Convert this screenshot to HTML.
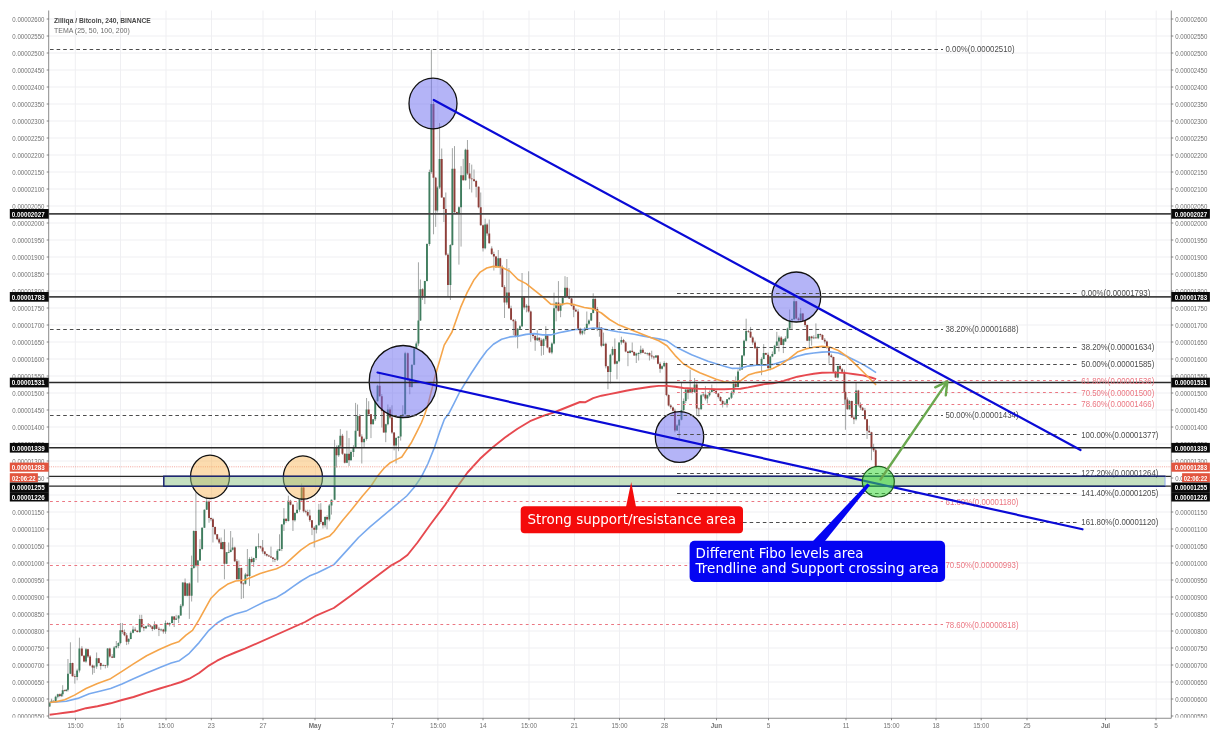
<!DOCTYPE html>
<html lang="en"><head><meta charset="utf-8"><title>Zilliqa / Bitcoin, 240, BINANCE</title>
<style>html,body{margin:0;padding:0;background:#fff}body{width:1220px;height:740px;overflow:hidden}</style>
</head><body>
<svg width="1220" height="740" viewBox="0 0 1220 740" style="display:block">
<rect width="1220" height="740" fill="#fff"/>
<path d="M75.3 10.5V718.25M120.5 10.5V718.25M166.0 10.5V718.25M211.5 10.5V718.25M263.0 10.5V718.25M315.5 10.5V718.25M392.5 10.5V718.25M437.8 10.5V718.25M483.2 10.5V718.25M529.0 10.5V718.25M574.5 10.5V718.25M619.5 10.5V718.25M664.5 10.5V718.25M716.7 10.5V718.25M768.5 10.5V718.25M846.5 10.5V718.25M891.5 10.5V718.25M936.2 10.5V718.25M981.2 10.5V718.25M1027.2 10.5V718.25M1105.5 10.5V718.25M1156.2 10.5V718.25M48.7 699.0H1171.3M48.7 682.0H1171.3M48.7 665.0H1171.3M48.7 648.0H1171.3M48.7 631.0H1171.3M48.7 614.0H1171.3M48.7 597.0H1171.3M48.7 580.0H1171.3M48.7 563.0H1171.3M48.7 546.0H1171.3M48.7 529.0H1171.3M48.7 512.0H1171.3M48.7 495.0H1171.3M48.7 478.0H1171.3M48.7 461.0H1171.3M48.7 444.0H1171.3M48.7 427.0H1171.3M48.7 410.0H1171.3M48.7 393.0H1171.3M48.7 376.0H1171.3M48.7 359.0H1171.3M48.7 342.0H1171.3M48.7 325.0H1171.3M48.7 308.0H1171.3M48.7 291.0H1171.3M48.7 274.0H1171.3M48.7 257.0H1171.3M48.7 240.0H1171.3M48.7 223.0H1171.3M48.7 206.0H1171.3M48.7 189.0H1171.3M48.7 172.0H1171.3M48.7 155.0H1171.3M48.7 138.0H1171.3M48.7 121.0H1171.3M48.7 104.0H1171.3M48.7 87.0H1171.3M48.7 70.0H1171.3M48.7 53.0H1171.3M48.7 36.0H1171.3M48.7 19.0H1171.3" stroke="#efeff2" stroke-width="1" fill="none"/>
<path d="M49.59 702.2V706.9M51.56 698.7V703.0M53.52 700.5V702.0M55.66 695.7V702.8M57.79 693.7V698.3M59.75 693.5V697.2M61.39 693.1V697.1M62.70 685.2V696.7M64.67 689.6V691.5M66.31 688.9V691.6M67.95 659.0V691.5M70.41 642.3V674.1M72.54 662.7V676.5M74.84 673.8V683.6M77.13 668.7V680.3M79.43 637.7V672.5M81.89 646.2V656.3M84.02 655.0V662.2M85.98 648.0V662.8M87.95 648.7V658.0M90.08 655.0V666.3M92.54 664.6V674.6M94.18 665.1V673.0M96.64 652.5V668.8M98.77 657.9V663.4M100.74 662.6V669.7M103.20 664.4V666.3M105.33 664.9V668.4M107.62 648.0V667.7M109.75 647.7V657.6M112.21 654.1V658.1M114.18 646.1V658.0M116.31 641.0V648.5M118.44 642.3V648.2M120.41 623.0V644.3M122.38 623.0V633.8M124.51 629.5V636.2M126.64 633.1V645.1M128.61 638.2V644.3M130.74 631.2V639.3M133.03 626.2V633.4M135.16 627.3V631.3M137.30 630.1V632.5M139.75 614.8V632.9M141.72 614.8V628.2M143.85 625.4V631.1M145.98 625.8V628.8M148.28 623.0V627.0M150.41 625.1V627.5M152.38 626.2V631.1M154.51 621.3V630.0M156.48 624.3V629.1M158.93 626.9V636.1M161.07 628.5V631.4M163.36 628.8V633.6M165.49 620.5V633.8M167.62 622.2V624.9M169.59 622.5V626.4M172.05 615.9V623.5M174.18 616.0V627.0M176.15 614.8V620.0M178.61 615.3V623.0M180.74 604.0V615.9M182.79 582.3V607.3M185.08 578.5V596.1M187.21 583.1V596.3M189.34 582.4V618.9M191.64 555.6V601.5M193.77 530.4V568.8M195.90 492.5V567.4M197.87 559.9V582.6M200.00 539.2V560.9M202.13 527.3V550.1M204.43 509.4V528.0M206.72 496.6V510.0M209.02 500.4V522.8M210.98 517.5V521.2M212.95 517.8V542.5M215.08 526.5V535.2M217.21 534.0V540.3M219.18 537.7V544.0M221.15 537.5V549.4M222.79 541.8V549.7M224.43 529.3V579.3M226.56 552.0V564.1M228.69 542.5V553.2M230.66 531.0V552.3M232.62 537.5V550.5M234.75 546.6V562.1M236.89 559.1V579.7M238.85 560.5V579.6M241.31 567.5V599.0M243.44 582.5V598.2M245.41 572.9V584.5M247.38 549.0V577.2M249.51 557.3V585.9M251.64 556.7V563.3M253.61 557.7V567.0M256.07 546.3V560.1M258.52 533.4V548.5M260.49 545.8V548.7M262.62 540.0V553.7M264.75 551.2V555.6M266.72 553.6V556.5M268.85 554.7V556.7M270.98 546.6V557.8M272.95 557.0V562.1M274.92 557.8V562.1M277.38 549.2V561.0M279.51 534.3V551.0M281.80 524.0V551.1M283.93 508.0V531.0M286.07 518.4V522.8M288.36 495.7V521.5M290.49 499.8V505.3M292.95 504.0V531.0M294.92 512.2V521.6M297.05 502.3V513.8M299.51 499.2V511.8M301.64 483.4V501.7M303.61 487.1V512.6M305.74 509.7V513.3M307.70 509.7V516.6M309.84 509.7V522.0M311.97 520.0V535.1M314.26 526.2V547.4M316.39 524.7V533.4M318.85 503.9V525.6M320.82 503.1V524.1M322.95 521.5V528.5M325.08 516.3V527.4M327.05 515.3V529.3M329.34 504.0V521.3M331.48 499.5V514.6M334.59 439.8V500.1M336.56 445.4V467.6M338.69 445.1V456.9M340.33 429.1V447.2M342.46 433.9V454.9M344.75 453.3V463.5M346.89 430.7V463.2M349.02 438.1V466.0M350.98 450.4V460.6M353.44 445.2V457.0M355.57 402.9V447.5M357.54 404.5V431.1M359.67 414.2V436.9M361.80 434.3V463.5M364.10 437.8V447.1M366.56 398.0V440.6M368.69 401.2V414.8M370.98 414.0V438.1M373.11 418.9V424.5M375.25 399.8V421.0M377.54 384.8V401.5M379.67 373.4V396.6M381.80 394.0V427.5M383.77 410.2V432.7M385.74 423.7V442.2M387.87 404.5V425.4M390.00 407.3V419.2M391.97 405.3V433.8M394.10 432.1V450.4M396.07 437.2V463.5M398.52 436.1V451.2M400.66 415.2V440.6M402.79 405.3V418.4M405.16 351.8V415.9M407.79 352.4V380.9M409.75 378.2V394.3M411.89 364.5V387.8M414.18 346.9V365.2M416.31 341.5V348.7M418.44 262.3V345.8M420.41 279.5V320.9M422.54 288.2V299.9M424.84 280.8V304.1M426.97 243.3V281.5M429.43 169.6V245.8M431.39 49.5V173.6M433.52 101.6V234.3M435.66 176.9V226.9M437.30 186.2V212.5M439.59 123.0V189.0M441.72 148.5V197.7M443.85 197.1V222.0M445.82 192.5V255.8M447.95 253.3V296.7M450.41 244.2V300.0M452.38 148.2V245.5M454.51 146.1V214.0M456.80 211.8V213.6M458.93 206.2V264.6M461.07 166.2V246.6M463.20 158.9V180.5M465.49 148.7V180.5M467.46 140.0V174.9M469.59 163.0V189.2M471.72 164.6V192.5M474.02 169.5V181.9M476.15 179.9V197.4M478.61 186.4V208.3M480.74 192.5V225.7M483.03 224.6V251.5M485.16 218.7V249.3M487.13 223.2V235.7M489.26 219.5V243.6M491.72 246.3V255.0M493.85 251.7V270.5M495.98 255.9V267.9M498.28 250.0V267.5M500.25 257.8V274.6M502.38 265.4V287.4M504.51 285.2V318.0M506.80 259.0V304.7M508.93 268.0V309.0M511.07 305.7V320.3M513.36 319.3V335.2M515.49 319.4V337.3M517.62 328.1V348.4M519.92 325.1V329.8M522.05 273.0V327.0M524.18 296.2V309.6M526.48 304.2V312.3M528.61 271.3V312.6M530.74 310.6V341.8M533.03 333.3V338.5M535.16 335.2V350.8M537.30 330.3V341.0M539.26 337.1V342.0M541.39 338.3V355.7M543.52 338.4V354.9M545.82 326.2V340.9M547.46 334.6V348.4M549.59 347.0V353.2M551.89 342.3V354.2M554.02 292.6V344.4M556.15 301.8V321.3M558.44 281.1V311.6M560.57 303.4V317.2M562.70 296.3V305.9M565.00 276.2V297.9M567.13 277.0V297.0M569.26 288.5V298.9M571.56 297.8V306.4M573.69 305.2V317.2M575.82 308.3V311.8M578.11 309.2V329.5M580.25 327.7V335.2M582.38 330.1V335.2M584.67 327.1V334.4M586.80 311.5V329.0M588.93 319.3V325.3M591.23 312.8V321.1M593.20 293.3V313.4M595.16 296.7V309.7M597.30 306.9V331.1M599.43 322.0V336.7M601.39 327.0V347.2M603.52 332.6V346.1M605.82 342.6V368.4M607.95 365.9V389.2M610.41 353.7V383.4M612.54 346.6V355.6M614.84 338.4V364.6M616.97 360.5V379.3M619.10 342.2V362.3M621.39 336.7V344.6M623.52 338.9V343.2M625.66 341.3V352.3M627.95 350.8V366.2M630.08 350.2V353.4M632.21 342.5V352.8M634.18 351.5V355.9M636.31 352.7V363.0M638.61 352.3V360.5M640.74 345.7V354.4M642.87 348.1V353.2M645.16 352.1V354.1M647.30 352.5V355.4M649.43 352.3V360.5M651.72 350.7V358.7M653.85 355.8V359.4M655.98 355.1V357.9M657.95 355.0V364.4M660.08 361.8V372.8M662.05 365.3V369.6M664.18 361.3V367.2M666.48 362.5V396.2M668.61 394.3V406.4M670.74 404.2V408.9M672.95 406.6V411.6M674.92 408.7V432.3M677.05 424.1V430.8M679.18 418.8V438.7M681.48 382.1V420.4M683.61 398.5V411.4M685.74 389.2V403.1M688.03 389.0V399.3M690.16 369.8V393.1M692.30 388.3V393.6M694.59 378.0V393.0M696.72 382.5V415.7M698.85 407.6V416.6M701.15 394.2V409.6M703.28 393.0V396.7M705.41 386.2V400.4M707.38 394.7V403.4M709.51 390.5V396.6M711.80 384.6V392.7M713.93 388.8V391.5M716.07 390.0V394.2M718.36 392.9V398.5M720.49 396.3V401.8M722.62 399.8V407.5M724.92 401.3V404.9M727.05 399.0V407.5M729.18 397.4V400.2M731.48 390.8V399.0M733.61 381.6V394.7M735.74 376.4V387.7M738.03 369.3V387.4M739.92 363.8V370.7M742.05 355.0V370.0M744.02 339.7V356.5M746.15 318.7V341.5M748.44 329.6V332.8M750.57 326.9V337.9M752.70 336.3V344.8M755.00 340.7V348.7M757.13 346.2V364.9M759.26 364.0V366.0M761.56 357.3V375.2M763.69 344.1V359.2M765.82 352.6V355.1M768.11 352.5V369.2M770.25 355.9V370.3M772.38 351.5V357.2M774.67 344.8V354.5M776.80 331.8V346.7M778.93 335.6V351.5M781.23 336.1V345.2M783.36 338.7V353.1M785.41 336.3V341.8M787.54 327.6V338.9M789.67 309.5V329.8M791.97 318.4V329.2M794.10 296.4V319.7M796.23 300.9V319.3M798.52 317.3V320.5M800.66 307.9V321.8M802.79 312.9V322.0M805.08 319.3V327.0M807.21 324.5V341.1M809.34 336.0V347.2M811.64 335.8V345.6M813.77 335.3V339.2M815.90 323.4V338.5M818.20 333.7V339.2M820.33 333.5V336.7M822.46 334.3V340.1M824.75 338.0V343.6M826.89 340.6V348.7M829.02 346.9V363.6M831.31 353.7V357.9M833.44 356.7V373.0M835.57 370.9V377.9M837.87 365.7V378.3M840.00 364.0V370.5M842.13 367.8V372.3M844.43 369.6V404.6M845.41 391.5V429.8M847.38 397.4V409.8M849.51 400.0V409.7M851.80 400.6V417.9M853.93 415.4V424.1M856.07 382.3V420.5M858.36 389.8V406.4M860.49 402.4V409.8M862.62 406.9V410.9M864.92 407.9V419.5M867.05 418.9V438.9M869.18 425.7V433.0M871.48 431.8V460.2M873.61 443.8V451.9M875.74 448.6V467.3" stroke="#7d817f" stroke-width="0.7" fill="none"/>
<path d="M48.64 702.5h1.9V706.6h-1.9zM50.61 700.8h1.9V702.5h-1.9zM54.71 696.7h1.9V701.3h-1.9zM56.84 694.3h1.9V696.7h-1.9zM60.44 694.3h1.9V695.9h-1.9zM61.75 690.2h1.9V694.3h-1.9zM65.36 689.8h1.9V691.0h-1.9zM67.00 673.8h1.9V689.8h-1.9zM69.46 663.1h1.9V673.8h-1.9zM76.18 670.5h1.9V677.0h-1.9zM78.48 648.4h1.9V670.5h-1.9zM85.03 649.2h1.9V661.5h-1.9zM93.23 666.4h1.9V667.5h-1.9zM95.69 658.2h1.9V666.4h-1.9zM102.25 665.2h1.9V666.0h-1.9zM106.67 648.4h1.9V665.6h-1.9zM113.23 647.5h1.9V657.7h-1.9zM115.36 645.9h1.9V647.5h-1.9zM117.49 643.0h1.9V645.9h-1.9zM119.46 630.3h1.9V643.0h-1.9zM127.66 639.0h1.9V641.8h-1.9zM129.79 632.8h1.9V639.0h-1.9zM132.08 629.5h1.9V632.8h-1.9zM138.80 618.9h1.9V632.0h-1.9zM145.03 626.2h1.9V628.2h-1.9zM147.33 625.4h1.9V626.2h-1.9zM153.56 624.6h1.9V628.9h-1.9zM160.12 629.5h1.9V630.3h-1.9zM164.54 623.0h1.9V631.5h-1.9zM168.64 623.0h1.9V624.6h-1.9zM171.10 616.4h1.9V623.0h-1.9zM175.20 618.4h1.9V619.7h-1.9zM177.66 615.6h1.9V618.4h-1.9zM179.79 605.7h1.9V615.6h-1.9zM181.84 582.6h1.9V605.7h-1.9zM186.26 583.4h1.9V595.7h-1.9zM190.69 567.9h1.9V595.7h-1.9zM192.82 531.0h1.9V567.9h-1.9zM196.92 560.5h1.9V565.4h-1.9zM199.05 549.0h1.9V560.5h-1.9zM201.18 527.7h1.9V549.0h-1.9zM203.48 509.7h1.9V527.7h-1.9zM205.77 501.5h1.9V509.7h-1.9zM221.84 542.1h1.9V549.0h-1.9zM225.61 552.3h1.9V563.8h-1.9zM227.74 552.0h1.9V552.8h-1.9zM229.71 549.8h1.9V552.0h-1.9zM231.67 547.4h1.9V549.8h-1.9zM237.90 567.9h1.9V579.3h-1.9zM244.46 574.4h1.9V583.8h-1.9zM248.56 558.9h1.9V576.1h-1.9zM252.66 558.0h1.9V562.1h-1.9zM255.12 546.6h1.9V558.0h-1.9zM257.57 546.2h1.9V547.0h-1.9zM276.43 550.7h1.9V559.7h-1.9zM278.56 549.0h1.9V550.7h-1.9zM280.85 524.4h1.9V549.0h-1.9zM282.98 518.7h1.9V524.4h-1.9zM287.41 500.7h1.9V521.1h-1.9zM293.97 513.0h1.9V520.3h-1.9zM296.10 509.7h1.9V513.0h-1.9zM298.56 499.8h1.9V509.7h-1.9zM300.69 487.5h1.9V499.8h-1.9zM315.44 525.2h1.9V529.7h-1.9zM317.90 509.7h1.9V525.2h-1.9zM324.13 517.0h1.9V525.2h-1.9zM328.39 505.6h1.9V519.5h-1.9zM330.53 499.8h1.9V505.6h-1.9zM333.64 447.1h1.9V499.8h-1.9zM337.74 445.5h1.9V455.3h-1.9zM339.38 435.7h1.9V445.5h-1.9zM345.94 453.7h1.9V462.7h-1.9zM350.03 452.0h1.9V460.2h-1.9zM352.49 447.1h1.9V452.0h-1.9zM354.62 430.7h1.9V447.1h-1.9zM356.59 416.0h1.9V430.7h-1.9zM363.15 438.9h1.9V442.2h-1.9zM365.61 409.4h1.9V438.9h-1.9zM372.16 419.3h1.9V424.2h-1.9zM374.30 401.2h1.9V419.3h-1.9zM376.59 385.7h1.9V401.2h-1.9zM384.79 424.2h1.9V432.4h-1.9zM386.92 409.4h1.9V424.2h-1.9zM395.12 438.1h1.9V445.5h-1.9zM397.57 436.5h1.9V438.1h-1.9zM399.71 416.0h1.9V436.5h-1.9zM401.84 414.3h1.9V416.0h-1.9zM404.21 353.3h1.9V414.3h-1.9zM410.94 364.8h1.9V386.9h-1.9zM413.23 348.4h1.9V364.8h-1.9zM415.36 343.4h1.9V348.4h-1.9zM417.49 320.5h1.9V343.4h-1.9zM419.46 289.3h1.9V320.5h-1.9zM423.89 281.1h1.9V297.5h-1.9zM426.02 243.9h1.9V281.1h-1.9zM428.48 172.0h1.9V244.1h-1.9zM430.44 103.9h1.9V172.0h-1.9zM436.35 187.5h1.9V210.5h-1.9zM438.64 158.9h1.9V187.5h-1.9zM449.46 244.9h1.9V285.1h-1.9zM451.43 168.7h1.9V244.9h-1.9zM457.98 207.2h1.9V213.0h-1.9zM460.12 175.2h1.9V207.2h-1.9zM464.54 149.8h1.9V180.2h-1.9zM484.21 224.4h1.9V248.2h-1.9zM497.33 258.2h1.9V267.2h-1.9zM505.85 292.6h1.9V302.5h-1.9zM516.67 328.7h1.9V336.9h-1.9zM518.97 326.2h1.9V328.7h-1.9zM521.10 296.7h1.9V326.2h-1.9zM525.53 305.7h1.9V307.4h-1.9zM536.35 337.7h1.9V340.2h-1.9zM542.57 339.3h1.9V345.9h-1.9zM544.87 335.2h1.9V339.3h-1.9zM550.94 343.4h1.9V352.5h-1.9zM553.07 308.2h1.9V343.4h-1.9zM555.20 302.5h1.9V308.2h-1.9zM559.62 304.1h1.9V310.7h-1.9zM561.75 297.5h1.9V304.1h-1.9zM564.05 287.7h1.9V297.5h-1.9zM581.43 331.1h1.9V333.6h-1.9zM583.72 328.7h1.9V331.1h-1.9zM585.85 323.8h1.9V328.7h-1.9zM587.98 320.5h1.9V323.8h-1.9zM590.28 313.1h1.9V320.5h-1.9zM592.25 299.0h1.9V313.0h-1.9zM598.48 327.4h1.9V329.3h-1.9zM602.57 343.8h1.9V345.7h-1.9zM609.46 354.8h1.9V372.0h-1.9zM611.59 349.0h1.9V354.8h-1.9zM616.02 361.3h1.9V363.8h-1.9zM618.15 342.5h1.9V361.3h-1.9zM620.44 340.0h1.9V342.5h-1.9zM629.13 350.7h1.9V353.1h-1.9zM635.36 353.6h1.9V355.6h-1.9zM637.66 353.1h1.9V353.9h-1.9zM639.79 349.8h1.9V353.1h-1.9zM646.35 353.0h1.9V353.8h-1.9zM655.03 355.6h1.9V357.5h-1.9zM661.10 366.2h1.9V368.7h-1.9zM663.23 363.0h1.9V366.2h-1.9zM676.10 425.6h1.9V430.5h-1.9zM678.23 419.8h1.9V425.6h-1.9zM680.53 410.0h1.9V419.8h-1.9zM682.66 401.0h1.9V410.0h-1.9zM684.79 389.5h1.9V401.0h-1.9zM689.21 388.7h1.9V392.8h-1.9zM693.64 384.6h1.9V392.0h-1.9zM700.20 395.2h1.9V409.2h-1.9zM702.33 394.4h1.9V395.2h-1.9zM706.43 395.2h1.9V398.5h-1.9zM708.56 392.0h1.9V395.2h-1.9zM710.85 389.5h1.9V392.0h-1.9zM723.97 403.6h1.9V404.4h-1.9zM726.10 399.3h1.9V403.6h-1.9zM728.23 397.7h1.9V399.3h-1.9zM730.53 392.8h1.9V397.7h-1.9zM732.66 383.8h1.9V392.8h-1.9zM737.08 371.5h1.9V387.0h-1.9zM738.97 369.5h1.9V370.3h-1.9zM741.10 355.6h1.9V369.5h-1.9zM743.07 340.8h1.9V355.6h-1.9zM745.20 331.0h1.9V340.8h-1.9zM760.61 358.9h1.9V365.4h-1.9zM762.74 353.1h1.9V358.9h-1.9zM769.30 356.4h1.9V367.9h-1.9zM771.43 353.9h1.9V356.4h-1.9zM773.72 345.7h1.9V353.9h-1.9zM775.85 341.6h1.9V345.7h-1.9zM777.98 337.5h1.9V341.6h-1.9zM782.41 339.2h1.9V344.9h-1.9zM784.46 338.2h1.9V341.5h-1.9zM786.59 328.4h1.9V338.2h-1.9zM788.72 320.2h1.9V328.4h-1.9zM791.02 319.3h1.9V320.2h-1.9zM793.15 301.3h1.9V319.3h-1.9zM799.71 313.6h1.9V320.2h-1.9zM808.39 336.6h1.9V340.7h-1.9zM812.82 337.4h1.9V338.2h-1.9zM817.25 334.1h1.9V338.2h-1.9zM836.92 366.1h1.9V377.5h-1.9zM848.56 401.1h1.9V409.3h-1.9zM855.12 390.5h1.9V419.2h-1.9z" fill="#3f7d5e"/>
<path d="M52.57 700.8h1.9V701.6h-1.9zM58.80 694.3h1.9V695.9h-1.9zM63.72 690.2h1.9V691.0h-1.9zM71.59 663.1h1.9V676.2h-1.9zM73.89 676.2h1.9V677.0h-1.9zM80.94 648.4h1.9V655.7h-1.9zM83.07 655.7h1.9V661.5h-1.9zM87.00 649.2h1.9V656.6h-1.9zM89.13 656.6h1.9V665.6h-1.9zM91.59 665.6h1.9V667.5h-1.9zM97.82 658.2h1.9V663.1h-1.9zM99.79 663.1h1.9V665.9h-1.9zM104.38 665.2h1.9V666.0h-1.9zM108.80 648.4h1.9V656.6h-1.9zM111.26 656.6h1.9V657.7h-1.9zM121.43 630.3h1.9V632.0h-1.9zM123.56 632.0h1.9V635.2h-1.9zM125.69 635.2h1.9V641.8h-1.9zM134.21 629.5h1.9V630.8h-1.9zM136.35 630.8h1.9V632.0h-1.9zM140.77 618.9h1.9V627.0h-1.9zM142.90 627.0h1.9V628.2h-1.9zM149.46 625.4h1.9V626.6h-1.9zM151.43 626.6h1.9V628.9h-1.9zM155.53 624.6h1.9V628.7h-1.9zM157.98 628.7h1.9V629.8h-1.9zM162.41 629.5h1.9V631.5h-1.9zM166.67 623.0h1.9V624.6h-1.9zM173.23 616.4h1.9V619.7h-1.9zM184.13 582.6h1.9V595.7h-1.9zM188.39 583.4h1.9V595.7h-1.9zM194.95 531.0h1.9V565.4h-1.9zM208.07 501.5h1.9V517.9h-1.9zM210.03 517.9h1.9V519.2h-1.9zM212.00 519.2h1.9V526.9h-1.9zM214.13 526.9h1.9V534.3h-1.9zM216.26 534.3h1.9V539.2h-1.9zM218.23 539.2h1.9V542.5h-1.9zM220.20 542.5h1.9V549.0h-1.9zM223.48 542.1h1.9V563.8h-1.9zM233.80 547.4h1.9V561.3h-1.9zM235.94 561.3h1.9V579.3h-1.9zM240.36 567.9h1.9V583.4h-1.9zM242.49 583.4h1.9V584.2h-1.9zM246.43 574.4h1.9V576.1h-1.9zM250.69 558.9h1.9V562.1h-1.9zM259.54 546.2h1.9V547.4h-1.9zM261.67 547.4h1.9V551.5h-1.9zM263.80 551.5h1.9V553.9h-1.9zM265.77 553.9h1.9V555.6h-1.9zM267.90 555.6h1.9V556.4h-1.9zM270.03 556.4h1.9V557.5h-1.9zM272.00 557.5h1.9V558.9h-1.9zM273.97 558.9h1.9V559.7h-1.9zM285.12 518.7h1.9V521.1h-1.9zM289.54 500.7h1.9V504.8h-1.9zM292.00 504.8h1.9V520.3h-1.9zM302.66 487.5h1.9V511.3h-1.9zM304.79 511.3h1.9V512.1h-1.9zM306.75 512.1h1.9V515.4h-1.9zM308.89 515.4h1.9V520.3h-1.9zM311.02 520.3h1.9V527.7h-1.9zM313.31 527.7h1.9V529.7h-1.9zM319.87 509.7h1.9V522.0h-1.9zM322.00 522.0h1.9V525.2h-1.9zM326.10 517.0h1.9V519.5h-1.9zM335.61 447.1h1.9V455.3h-1.9zM341.51 435.7h1.9V453.7h-1.9zM343.80 453.7h1.9V462.7h-1.9zM348.07 453.7h1.9V460.2h-1.9zM358.72 416.0h1.9V436.5h-1.9zM360.85 436.5h1.9V442.2h-1.9zM367.74 409.4h1.9V414.3h-1.9zM370.03 414.3h1.9V424.2h-1.9zM378.72 385.7h1.9V396.3h-1.9zM380.85 396.3h1.9V411.1h-1.9zM382.82 411.1h1.9V432.4h-1.9zM389.05 409.4h1.9V417.6h-1.9zM391.02 417.6h1.9V432.4h-1.9zM393.15 432.4h1.9V445.5h-1.9zM406.84 353.3h1.9V379.5h-1.9zM408.80 379.5h1.9V386.9h-1.9zM421.59 289.3h1.9V297.5h-1.9zM432.57 103.9h1.9V177.7h-1.9zM434.71 177.7h1.9V210.5h-1.9zM440.77 158.9h1.9V197.4h-1.9zM442.90 197.4h1.9V208.9h-1.9zM444.87 208.9h1.9V254.8h-1.9zM447.00 254.8h1.9V285.1h-1.9zM453.56 168.7h1.9V212.1h-1.9zM455.85 212.1h1.9V213.0h-1.9zM462.25 175.2h1.9V180.2h-1.9zM466.51 149.8h1.9V173.6h-1.9zM468.64 173.6h1.9V178.5h-1.9zM470.77 178.5h1.9V179.3h-1.9zM473.07 179.3h1.9V181.0h-1.9zM475.20 181.0h1.9V186.7h-1.9zM477.66 186.7h1.9V207.2h-1.9zM479.79 207.2h1.9V225.2h-1.9zM482.08 225.2h1.9V248.2h-1.9zM486.18 224.4h1.9V233.4h-1.9zM488.31 233.4h1.9V243.3h-1.9zM490.77 248.4h1.9V254.1h-1.9zM492.90 254.1h1.9V256.6h-1.9zM495.03 256.6h1.9V267.2h-1.9zM499.30 258.2h1.9V267.2h-1.9zM501.43 267.2h1.9V286.9h-1.9zM503.56 286.9h1.9V302.5h-1.9zM507.98 292.6h1.9V308.2h-1.9zM510.12 308.2h1.9V319.7h-1.9zM512.41 319.7h1.9V321.3h-1.9zM514.54 321.3h1.9V336.9h-1.9zM523.23 296.7h1.9V307.4h-1.9zM527.66 305.7h1.9V311.5h-1.9zM529.79 311.5h1.9V333.6h-1.9zM532.08 333.6h1.9V336.1h-1.9zM534.21 336.1h1.9V340.2h-1.9zM538.31 337.7h1.9V340.2h-1.9zM540.44 340.2h1.9V345.9h-1.9zM546.51 335.2h1.9V347.5h-1.9zM548.64 347.5h1.9V352.5h-1.9zM557.49 302.5h1.9V310.7h-1.9zM566.18 287.7h1.9V296.7h-1.9zM568.31 296.7h1.9V298.4h-1.9zM570.61 298.4h1.9V305.7h-1.9zM572.74 305.7h1.9V309.8h-1.9zM574.87 309.8h1.9V311.5h-1.9zM577.16 311.5h1.9V328.7h-1.9zM579.30 328.7h1.9V333.6h-1.9zM594.21 299.0h1.9V308.9h-1.9zM596.35 308.9h1.9V329.3h-1.9zM600.44 327.4h1.9V345.7h-1.9zM604.87 343.8h1.9V366.2h-1.9zM607.00 366.2h1.9V372.0h-1.9zM613.89 349.0h1.9V363.8h-1.9zM622.57 340.0h1.9V342.5h-1.9zM624.71 342.5h1.9V351.5h-1.9zM627.00 351.5h1.9V353.1h-1.9zM631.26 350.7h1.9V352.0h-1.9zM633.23 352.0h1.9V355.6h-1.9zM641.92 349.8h1.9V352.8h-1.9zM644.21 352.8h1.9V353.6h-1.9zM648.48 353.0h1.9V355.6h-1.9zM650.77 355.6h1.9V356.4h-1.9zM652.90 356.4h1.9V357.5h-1.9zM657.00 355.6h1.9V363.8h-1.9zM659.13 363.8h1.9V368.7h-1.9zM665.53 363.0h1.9V394.9h-1.9zM667.66 394.9h1.9V405.6h-1.9zM669.79 405.6h1.9V407.2h-1.9zM672.00 407.5h1.9V410.8h-1.9zM673.97 410.8h1.9V430.5h-1.9zM687.08 389.5h1.9V392.8h-1.9zM691.35 388.7h1.9V392.0h-1.9zM695.77 384.6h1.9V408.4h-1.9zM697.90 408.4h1.9V409.2h-1.9zM704.46 394.4h1.9V398.5h-1.9zM712.98 389.5h1.9V391.1h-1.9zM715.12 391.1h1.9V393.6h-1.9zM717.41 393.6h1.9V396.9h-1.9zM719.54 396.9h1.9V401.0h-1.9zM721.67 401.0h1.9V404.3h-1.9zM734.79 383.8h1.9V387.0h-1.9zM747.49 331.0h1.9V331.8h-1.9zM749.62 331.8h1.9V337.5h-1.9zM751.75 337.5h1.9V342.5h-1.9zM754.05 342.5h1.9V348.2h-1.9zM756.18 348.2h1.9V364.6h-1.9zM758.31 364.6h1.9V365.4h-1.9zM764.87 353.1h1.9V354.8h-1.9zM767.16 354.8h1.9V367.9h-1.9zM780.28 337.5h1.9V344.9h-1.9zM795.28 301.3h1.9V318.5h-1.9zM797.57 318.5h1.9V320.2h-1.9zM801.84 313.6h1.9V321.0h-1.9zM804.13 321.0h1.9V325.1h-1.9zM806.26 325.1h1.9V340.7h-1.9zM810.69 336.6h1.9V338.2h-1.9zM814.95 337.4h1.9V338.2h-1.9zM819.38 334.1h1.9V334.9h-1.9zM821.51 334.9h1.9V339.8h-1.9zM823.80 339.8h1.9V341.5h-1.9zM825.94 341.5h1.9V347.2h-1.9zM828.07 347.2h1.9V355.4h-1.9zM830.36 355.4h1.9V357.0h-1.9zM832.49 357.0h1.9V371.8h-1.9zM834.62 371.8h1.9V377.5h-1.9zM839.05 366.1h1.9V369.3h-1.9zM841.18 369.3h1.9V371.8h-1.9zM843.48 371.8h1.9V392.3h-1.9zM844.46 392.1h1.9V399.5h-1.9zM846.43 399.5h1.9V409.3h-1.9zM850.85 401.1h1.9V417.5h-1.9zM852.98 417.5h1.9V419.2h-1.9zM857.41 390.5h1.9V404.4h-1.9zM859.54 404.4h1.9V407.7h-1.9zM861.67 407.7h1.9V410.2h-1.9zM863.97 410.2h1.9V419.2h-1.9zM866.10 419.2h1.9V430.7h-1.9zM868.23 430.7h1.9V432.3h-1.9zM870.53 432.3h1.9V447.0h-1.9zM872.66 447.0h1.9V450.3h-1.9zM874.79 450.3h1.9V466.7h-1.9z" fill="#8f3f3a"/>
<polyline points="49.6,714.8 56.5,713.9 64.7,712.8 74.5,711.5 86.0,708.2 97.5,706.2 110.6,703.3 122.0,700.0 133.5,697.0 146.6,692.6 159.8,688.5 171.2,685.2 181.1,682.0 189.3,678.7 199.1,673.0 208.9,665.6 217.1,660.7 225.3,656.6 235.2,652.5 245.0,648.7 305.0,622.0 315.0,616.2 333.8,608.0 350.0,596.2 370.0,581.2 390.0,566.2 400.0,560.5 407.5,555.0 417.5,542.5 430.0,525.0 445.0,505.0 455.0,490.0 467.5,472.5 480.0,458.8 492.5,447.5 505.0,437.5 517.5,428.8 530.0,421.2 542.5,416.2 555.0,412.0 567.5,407.0 580.0,402.0 585.0,402.3 593.2,398.2 601.4,395.7 609.6,394.1 617.8,392.5 626.0,390.8 634.2,389.2 642.4,388.0 650.6,386.7 658.8,385.9 667.0,385.9 675.2,386.7 683.4,388.0 691.6,388.4 699.8,388.9 708.0,388.9 716.1,389.2 724.3,389.2 732.5,388.9 740.4,388.8 748.2,387.4 756.4,385.7 764.6,384.1 772.8,383.3 781.0,381.6 789.2,379.2 797.4,376.7 805.6,375.1 813.8,373.8 822.0,372.8 830.2,372.6 838.4,372.6 846.6,373.1 854.8,374.3 863.0,375.4 871.1,377.5 876.1,379.2" fill="none" stroke="#e6494f" stroke-width="1.9" stroke-linejoin="round"/>
<polyline points="49.6,702.5 56.5,702.0 66.3,701.3 77.8,698.4 89.3,693.8 100.7,691.0 110.6,688.5 122.0,683.9 133.5,678.7 146.6,673.0 159.8,667.5 171.2,663.1 179.4,660.7 189.3,653.3 199.1,642.6 208.9,630.3 217.1,623.0 225.3,618.0 235.2,613.9 246.0,611.1 255.2,606.4 265.1,601.5 276.6,597.4 284.8,592.5 293.0,586.7 301.1,581.0 309.3,576.1 317.5,572.8 325.7,568.7 333.9,564.6 342.1,555.6 350.3,546.6 358.5,537.5 370.0,526.9 406.7,496.0 414.9,486.5 421.5,476.6 428.0,463.5 434.6,447.1 439.5,432.4 444.4,419.3 449.3,412.7 454.3,402.9 459.2,393.0 464.1,384.8 471.4,373.0 480.2,359.8 486.8,350.8 493.4,344.3 501.6,339.3 509.8,336.9 518.0,336.1 526.1,334.4 534.3,333.6 542.5,334.9 550.7,334.9 558.9,332.8 567.1,331.1 575.3,329.5 584.3,329.4 593.2,328.0 601.4,328.5 609.6,330.2 617.8,331.8 626.0,333.0 634.2,334.3 642.4,335.9 650.6,337.5 658.8,338.9 667.0,340.8 675.2,346.6 683.4,350.7 691.6,354.8 699.8,358.0 708.0,361.3 716.1,363.8 724.3,366.2 732.5,368.4 740.4,368.2 748.2,366.1 756.4,365.2 764.6,365.2 772.8,364.4 781.0,362.0 789.2,359.5 797.4,356.2 805.6,354.1 813.8,353.0 822.0,352.1 830.2,351.8 838.4,353.0 846.6,356.2 854.8,360.3 863.0,364.4 871.1,369.3 876.1,372.6" fill="none" stroke="#78a9ee" stroke-width="1.6" stroke-linejoin="round"/>
<polyline points="49.6,702.5 56.5,701.6 64.7,699.7 74.5,695.1 86.0,688.5 97.5,683.6 110.6,678.7 122.0,671.3 133.5,663.9 146.6,655.7 159.8,649.2 171.2,644.3 178.6,641.8 186.0,635.2 192.5,630.3 199.1,619.7 211.0,598.2 219.2,590.0 227.4,584.3 235.6,581.0 243.8,580.2 252.0,576.9 260.2,573.6 268.4,571.1 276.6,568.7 284.8,564.6 293.0,557.2 301.1,549.8 309.3,544.1 317.5,540.8 325.7,537.5 329.8,535.9 333.9,531.8 342.1,521.1 350.3,511.3 362.5,496.0 370.7,486.5 377.2,476.6 383.8,468.4 390.3,462.7 396.9,459.4 401.8,457.0 406.7,449.6 411.6,442.2 416.6,432.4 421.5,422.5 424.8,414.3 428.0,404.5 431.3,391.4 435.3,375.5 444.2,345.1 452.0,332.0 460.6,307.4 467.1,292.6 473.7,280.3 480.2,272.1 486.8,268.0 493.4,266.4 501.6,267.2 509.8,271.3 518.0,279.5 526.1,283.6 534.3,290.2 542.5,296.7 550.7,304.1 558.9,304.9 567.1,303.3 575.3,304.9 584.3,307.5 593.2,308.9 601.4,313.0 609.6,319.5 617.8,324.4 626.0,327.7 634.2,331.0 642.4,334.3 650.6,337.5 658.8,340.8 667.0,345.7 675.2,355.6 683.4,363.8 691.6,368.7 699.8,372.8 708.0,376.1 716.1,379.3 724.3,381.8 732.5,382.6 740.4,380.9 748.2,375.1 756.4,372.6 764.6,371.0 772.8,368.5 781.0,364.4 789.2,358.7 797.4,352.1 805.6,348.9 813.8,347.2 822.0,346.4 830.2,347.2 838.4,350.5 846.6,356.2 854.8,363.6 863.0,371.8 871.1,380.0 876.1,384.9" fill="none" stroke="#f5a54a" stroke-width="1.6" stroke-linejoin="round"/>
<ellipse cx="433" cy="103.5" rx="24" ry="25.3" fill="#6a6af0" fill-opacity="0.5" stroke="#111" stroke-width="1.3"/>
<ellipse cx="403.1" cy="381.5" rx="33.9" ry="36" fill="#6a6af0" fill-opacity="0.5" stroke="#111" stroke-width="1.3"/>
<ellipse cx="796.3" cy="297" rx="24.4" ry="25" fill="#6a6af0" fill-opacity="0.5" stroke="#111" stroke-width="1.3"/>
<ellipse cx="679.5" cy="437" rx="24.2" ry="25.4" fill="#6a6af0" fill-opacity="0.5" stroke="#111" stroke-width="1.3"/>
<path d="M48.7 466.8H1171.3" stroke="#f29a8e" stroke-width="0.9" stroke-dasharray="1 1.2" fill="none"/>
<path d="M48.7 213.8H1171.3" stroke="#444" stroke-width="1.7" fill="none"/>
<path d="M48.7 296.8H1171.3" stroke="#444" stroke-width="1.7" fill="none"/>
<path d="M48.7 382.5H1171.3" stroke="#2a2a2a" stroke-width="1.4" fill="none"/>
<path d="M48.7 447.7H1171.3" stroke="#2a2a2a" stroke-width="1.4" fill="none"/>
<path d="M48.7 476.3H1171.3" stroke="#2a2a2a" stroke-width="1.2" fill="none"/>
<path d="M48.7 486.2H1171.3" stroke="#2a2a2a" stroke-width="1.2" fill="none"/>
<path d="M50 49.5H943" stroke="#4c4c4c" stroke-width="1" stroke-dasharray="3.6 3" fill="none"/>
<text x="945.5" y="52.3" font-family='"Liberation Sans", Arial, sans-serif' font-size="8.4" fill="#4c4c4c" textLength="69" lengthAdjust="spacingAndGlyphs">0.00%(0.00002510)</text>
<path d="M50 329.5H943" stroke="#4c4c4c" stroke-width="1" stroke-dasharray="3.6 3" fill="none"/>
<text x="945.5" y="331.8" font-family='"Liberation Sans", Arial, sans-serif' font-size="8.4" fill="#4c4c4c" textLength="73" lengthAdjust="spacingAndGlyphs">38.20%(0.00001688)</text>
<path d="M50 415.5H943" stroke="#4c4c4c" stroke-width="1" stroke-dasharray="3.6 3" fill="none"/>
<text x="945.5" y="418.1" font-family='"Liberation Sans", Arial, sans-serif' font-size="8.4" fill="#4c4c4c" textLength="73" lengthAdjust="spacingAndGlyphs">50.00%(0.00001434)</text>
<path d="M50 501.5H943" stroke="#eb7782" stroke-width="1" stroke-dasharray="2.8 3.3" fill="none"/>
<text x="945.5" y="504.5" font-family='"Liberation Sans", Arial, sans-serif' font-size="8.4" fill="#eb7782" textLength="73" lengthAdjust="spacingAndGlyphs">61.80%(0.00001180)</text>
<path d="M50 565.5H943" stroke="#eb7782" stroke-width="1" stroke-dasharray="2.8 3.3" fill="none"/>
<text x="945.5" y="568.1" font-family='"Liberation Sans", Arial, sans-serif' font-size="8.4" fill="#eb7782" textLength="73" lengthAdjust="spacingAndGlyphs">70.50%(0.00000993)</text>
<path d="M50 624.5H943" stroke="#eb7782" stroke-width="1" stroke-dasharray="2.8 3.3" fill="none"/>
<text x="945.5" y="627.6" font-family='"Liberation Sans", Arial, sans-serif' font-size="8.4" fill="#eb7782" textLength="73" lengthAdjust="spacingAndGlyphs">78.60%(0.00000818)</text>
<path d="M677 293.5H1078.5" stroke="#4c4c4c" stroke-width="1" stroke-dasharray="3.6 3" fill="none"/>
<text x="1081.3" y="296.1" font-family='"Liberation Sans", Arial, sans-serif' font-size="8.4" fill="#4c4c4c" textLength="69" lengthAdjust="spacingAndGlyphs">0.00%(0.00001793)</text>
<path d="M677 347.5H1078.5" stroke="#4c4c4c" stroke-width="1" stroke-dasharray="3.6 3" fill="none"/>
<text x="1081.3" y="350.1" font-family='"Liberation Sans", Arial, sans-serif' font-size="8.4" fill="#4c4c4c" textLength="73" lengthAdjust="spacingAndGlyphs">38.20%(0.00001634)</text>
<path d="M677 364.5H1078.5" stroke="#4c4c4c" stroke-width="1" stroke-dasharray="3.6 3" fill="none"/>
<text x="1081.3" y="366.8" font-family='"Liberation Sans", Arial, sans-serif' font-size="8.4" fill="#4c4c4c" textLength="73" lengthAdjust="spacingAndGlyphs">50.00%(0.00001585)</text>
<path d="M677 380.5H1078.5" stroke="#eb7782" stroke-width="1" stroke-dasharray="2.8 3.3" fill="none"/>
<text x="1081.3" y="383.5" font-family='"Liberation Sans", Arial, sans-serif' font-size="8.4" fill="#eb7782" textLength="73" lengthAdjust="spacingAndGlyphs">61.80%(0.00001536)</text>
<path d="M677 392.5H1078.5" stroke="#eb7782" stroke-width="1" stroke-dasharray="2.8 3.3" fill="none"/>
<text x="1081.3" y="395.7" font-family='"Liberation Sans", Arial, sans-serif' font-size="8.4" fill="#eb7782" textLength="73" lengthAdjust="spacingAndGlyphs">70.50%(0.00001500)</text>
<path d="M677 404.5H1078.5" stroke="#eb7782" stroke-width="1" stroke-dasharray="2.8 3.3" fill="none"/>
<text x="1081.3" y="407.3" font-family='"Liberation Sans", Arial, sans-serif' font-size="8.4" fill="#eb7782" textLength="73" lengthAdjust="spacingAndGlyphs">78.60%(0.00001466)</text>
<path d="M677 434.5H1078.5" stroke="#4c4c4c" stroke-width="1" stroke-dasharray="3.6 3" fill="none"/>
<text x="1081.3" y="437.5" font-family='"Liberation Sans", Arial, sans-serif' font-size="8.4" fill="#4c4c4c" textLength="77" lengthAdjust="spacingAndGlyphs">100.00%(0.00001377)</text>
<path d="M677 473.5H1078.5" stroke="#4c4c4c" stroke-width="1" stroke-dasharray="3.6 3" fill="none"/>
<text x="1081.3" y="475.9" font-family='"Liberation Sans", Arial, sans-serif' font-size="8.4" fill="#4c4c4c" textLength="77" lengthAdjust="spacingAndGlyphs">127.20%(0.00001264)</text>
<path d="M677 493.5H1078.5" stroke="#4c4c4c" stroke-width="1" stroke-dasharray="3.6 3" fill="none"/>
<text x="1081.3" y="496.0" font-family='"Liberation Sans", Arial, sans-serif' font-size="8.4" fill="#4c4c4c" textLength="77" lengthAdjust="spacingAndGlyphs">141.40%(0.00001205)</text>
<path d="M677 522.5H1078.5" stroke="#4c4c4c" stroke-width="1" stroke-dasharray="3.6 3" fill="none"/>
<text x="1081.3" y="524.9" font-family='"Liberation Sans", Arial, sans-serif' font-size="8.4" fill="#4c4c4c" textLength="77" lengthAdjust="spacingAndGlyphs">161.80%(0.00001120)</text>
<ellipse cx="210" cy="476.8" rx="19.5" ry="21.7" fill="#f8b24e" fill-opacity="0.45" stroke="#111" stroke-width="1.3"/>
<ellipse cx="302.9" cy="477.5" rx="19.6" ry="21.7" fill="#f8b24e" fill-opacity="0.45" stroke="#111" stroke-width="1.3"/>
<rect x="163.8" y="476.3" width="1001.2" height="9.9" fill="#8cc283" fill-opacity="0.5"/>
<path d="M1165.0 476.3V486.2" stroke="#9db4ec" stroke-width="1.2" fill="none"/>
<path d="M1165.5 476.3H163.8V486.2H1165.5" stroke="#1b2672" stroke-width="1.5" fill="none"/>
<path d="M433.8 100L1080.5 450M377.5 372.5L1082.5 529.3" stroke="#0a0ad6" stroke-width="2.2" fill="none" stroke-linecap="round"/>
<ellipse cx="878.3" cy="481.7" rx="16" ry="15.3" fill="#3ad83a" fill-opacity="0.55" stroke="#1c5c1c" stroke-width="1.2"/>
<path d="M880.5 479.5L947.3 381.6M935.2 387.3L947.4 381.4L945.8 395.3" stroke="#6aa84f" stroke-width="2.4" fill="none" stroke-linecap="round" stroke-linejoin="round"/>
<path d="M626 507L631.2 482L636 507z" fill="#f40b0b"/>
<rect x="520.7" y="506.3" width="222.3" height="26.9" rx="4" fill="#f40b0b"/>
<text x="527.4" y="524.2" font-family='"DejaVu Sans", "Liberation Sans", Verdana, sans-serif' font-size="14" fill="#fff" textLength="208.6" lengthAdjust="spacingAndGlyphs">Strong support/resistance area</text>
<path d="M812.6 541.5L867.3 483.4L870 485.2L824.6 541.5z" fill="#0404f2"/>
<rect x="689.6" y="540.7" width="255.5" height="41.3" rx="5" fill="#0404f2"/>
<text x="695.6" y="558.4" font-family='"DejaVu Sans", "Liberation Sans", Verdana, sans-serif' font-size="14" fill="#fff" textLength="168" lengthAdjust="spacingAndGlyphs">Different Fibo levels area</text>
<text x="695.6" y="572.6" font-family='"DejaVu Sans", "Liberation Sans", Verdana, sans-serif' font-size="14" fill="#fff" textLength="243.3" lengthAdjust="spacingAndGlyphs">Trendline and Support crossing area</text>
<rect x="0" y="0" width="48.7" height="740" fill="#fff"/><rect x="1171.3" y="0" width="48.700000000000045" height="740" fill="#fff"/>
<rect x="0" y="718.25" width="1220" height="21.75" fill="#fff"/>
<path d="M48.7 10.5V718.25H1171.3V10.5" stroke="#8c8c8c" stroke-width="1" fill="none"/>
<clipPath id="cp"><rect x="0" y="0" width="1220" height="717.75"/></clipPath>
<g clip-path="url(#cp)" font-family='"Liberation Sans", Arial, sans-serif' font-size="6.4" fill="#727272"><text x="12.3" y="718.9" textLength="32.2" lengthAdjust="spacingAndGlyphs">0.00000550</text><text x="1175.2" y="718.9" textLength="32.2" lengthAdjust="spacingAndGlyphs">0.00000550</text><text x="12.3" y="701.9" textLength="32.2" lengthAdjust="spacingAndGlyphs">0.00000600</text><text x="1175.2" y="701.9" textLength="32.2" lengthAdjust="spacingAndGlyphs">0.00000600</text><text x="12.3" y="684.9" textLength="32.2" lengthAdjust="spacingAndGlyphs">0.00000650</text><text x="1175.2" y="684.9" textLength="32.2" lengthAdjust="spacingAndGlyphs">0.00000650</text><text x="12.3" y="667.9" textLength="32.2" lengthAdjust="spacingAndGlyphs">0.00000700</text><text x="1175.2" y="667.9" textLength="32.2" lengthAdjust="spacingAndGlyphs">0.00000700</text><text x="12.3" y="650.9" textLength="32.2" lengthAdjust="spacingAndGlyphs">0.00000750</text><text x="1175.2" y="650.9" textLength="32.2" lengthAdjust="spacingAndGlyphs">0.00000750</text><text x="12.3" y="633.9" textLength="32.2" lengthAdjust="spacingAndGlyphs">0.00000800</text><text x="1175.2" y="633.9" textLength="32.2" lengthAdjust="spacingAndGlyphs">0.00000800</text><text x="12.3" y="616.9" textLength="32.2" lengthAdjust="spacingAndGlyphs">0.00000850</text><text x="1175.2" y="616.9" textLength="32.2" lengthAdjust="spacingAndGlyphs">0.00000850</text><text x="12.3" y="599.9" textLength="32.2" lengthAdjust="spacingAndGlyphs">0.00000900</text><text x="1175.2" y="599.9" textLength="32.2" lengthAdjust="spacingAndGlyphs">0.00000900</text><text x="12.3" y="582.9" textLength="32.2" lengthAdjust="spacingAndGlyphs">0.00000950</text><text x="1175.2" y="582.9" textLength="32.2" lengthAdjust="spacingAndGlyphs">0.00000950</text><text x="12.3" y="565.9" textLength="32.2" lengthAdjust="spacingAndGlyphs">0.00001000</text><text x="1175.2" y="565.9" textLength="32.2" lengthAdjust="spacingAndGlyphs">0.00001000</text><text x="12.3" y="548.9" textLength="32.2" lengthAdjust="spacingAndGlyphs">0.00001050</text><text x="1175.2" y="548.9" textLength="32.2" lengthAdjust="spacingAndGlyphs">0.00001050</text><text x="12.3" y="531.9" textLength="32.2" lengthAdjust="spacingAndGlyphs">0.00001100</text><text x="1175.2" y="531.9" textLength="32.2" lengthAdjust="spacingAndGlyphs">0.00001100</text><text x="12.3" y="514.9" textLength="32.2" lengthAdjust="spacingAndGlyphs">0.00001150</text><text x="1175.2" y="514.9" textLength="32.2" lengthAdjust="spacingAndGlyphs">0.00001150</text><text x="12.3" y="497.9" textLength="32.2" lengthAdjust="spacingAndGlyphs">0.00001200</text><text x="1175.2" y="497.9" textLength="32.2" lengthAdjust="spacingAndGlyphs">0.00001200</text><text x="12.3" y="480.9" textLength="32.2" lengthAdjust="spacingAndGlyphs">0.00001250</text><text x="1175.2" y="480.9" textLength="32.2" lengthAdjust="spacingAndGlyphs">0.00001250</text><text x="12.3" y="463.9" textLength="32.2" lengthAdjust="spacingAndGlyphs">0.00001300</text><text x="1175.2" y="463.9" textLength="32.2" lengthAdjust="spacingAndGlyphs">0.00001300</text><text x="12.3" y="446.9" textLength="32.2" lengthAdjust="spacingAndGlyphs">0.00001350</text><text x="1175.2" y="446.9" textLength="32.2" lengthAdjust="spacingAndGlyphs">0.00001350</text><text x="12.3" y="429.9" textLength="32.2" lengthAdjust="spacingAndGlyphs">0.00001400</text><text x="1175.2" y="429.9" textLength="32.2" lengthAdjust="spacingAndGlyphs">0.00001400</text><text x="12.3" y="412.9" textLength="32.2" lengthAdjust="spacingAndGlyphs">0.00001450</text><text x="1175.2" y="412.9" textLength="32.2" lengthAdjust="spacingAndGlyphs">0.00001450</text><text x="12.3" y="395.9" textLength="32.2" lengthAdjust="spacingAndGlyphs">0.00001500</text><text x="1175.2" y="395.9" textLength="32.2" lengthAdjust="spacingAndGlyphs">0.00001500</text><text x="12.3" y="378.9" textLength="32.2" lengthAdjust="spacingAndGlyphs">0.00001550</text><text x="1175.2" y="378.9" textLength="32.2" lengthAdjust="spacingAndGlyphs">0.00001550</text><text x="12.3" y="361.9" textLength="32.2" lengthAdjust="spacingAndGlyphs">0.00001600</text><text x="1175.2" y="361.9" textLength="32.2" lengthAdjust="spacingAndGlyphs">0.00001600</text><text x="12.3" y="344.9" textLength="32.2" lengthAdjust="spacingAndGlyphs">0.00001650</text><text x="1175.2" y="344.9" textLength="32.2" lengthAdjust="spacingAndGlyphs">0.00001650</text><text x="12.3" y="327.9" textLength="32.2" lengthAdjust="spacingAndGlyphs">0.00001700</text><text x="1175.2" y="327.9" textLength="32.2" lengthAdjust="spacingAndGlyphs">0.00001700</text><text x="12.3" y="310.9" textLength="32.2" lengthAdjust="spacingAndGlyphs">0.00001750</text><text x="1175.2" y="310.9" textLength="32.2" lengthAdjust="spacingAndGlyphs">0.00001750</text><text x="12.3" y="293.9" textLength="32.2" lengthAdjust="spacingAndGlyphs">0.00001800</text><text x="1175.2" y="293.9" textLength="32.2" lengthAdjust="spacingAndGlyphs">0.00001800</text><text x="12.3" y="276.9" textLength="32.2" lengthAdjust="spacingAndGlyphs">0.00001850</text><text x="1175.2" y="276.9" textLength="32.2" lengthAdjust="spacingAndGlyphs">0.00001850</text><text x="12.3" y="259.9" textLength="32.2" lengthAdjust="spacingAndGlyphs">0.00001900</text><text x="1175.2" y="259.9" textLength="32.2" lengthAdjust="spacingAndGlyphs">0.00001900</text><text x="12.3" y="242.9" textLength="32.2" lengthAdjust="spacingAndGlyphs">0.00001950</text><text x="1175.2" y="242.9" textLength="32.2" lengthAdjust="spacingAndGlyphs">0.00001950</text><text x="12.3" y="225.9" textLength="32.2" lengthAdjust="spacingAndGlyphs">0.00002000</text><text x="1175.2" y="225.9" textLength="32.2" lengthAdjust="spacingAndGlyphs">0.00002000</text><text x="12.3" y="208.9" textLength="32.2" lengthAdjust="spacingAndGlyphs">0.00002050</text><text x="1175.2" y="208.9" textLength="32.2" lengthAdjust="spacingAndGlyphs">0.00002050</text><text x="12.3" y="191.9" textLength="32.2" lengthAdjust="spacingAndGlyphs">0.00002100</text><text x="1175.2" y="191.9" textLength="32.2" lengthAdjust="spacingAndGlyphs">0.00002100</text><text x="12.3" y="174.9" textLength="32.2" lengthAdjust="spacingAndGlyphs">0.00002150</text><text x="1175.2" y="174.9" textLength="32.2" lengthAdjust="spacingAndGlyphs">0.00002150</text><text x="12.3" y="157.9" textLength="32.2" lengthAdjust="spacingAndGlyphs">0.00002200</text><text x="1175.2" y="157.9" textLength="32.2" lengthAdjust="spacingAndGlyphs">0.00002200</text><text x="12.3" y="140.9" textLength="32.2" lengthAdjust="spacingAndGlyphs">0.00002250</text><text x="1175.2" y="140.9" textLength="32.2" lengthAdjust="spacingAndGlyphs">0.00002250</text><text x="12.3" y="123.9" textLength="32.2" lengthAdjust="spacingAndGlyphs">0.00002300</text><text x="1175.2" y="123.9" textLength="32.2" lengthAdjust="spacingAndGlyphs">0.00002300</text><text x="12.3" y="106.9" textLength="32.2" lengthAdjust="spacingAndGlyphs">0.00002350</text><text x="1175.2" y="106.9" textLength="32.2" lengthAdjust="spacingAndGlyphs">0.00002350</text><text x="12.3" y="89.9" textLength="32.2" lengthAdjust="spacingAndGlyphs">0.00002400</text><text x="1175.2" y="89.9" textLength="32.2" lengthAdjust="spacingAndGlyphs">0.00002400</text><text x="12.3" y="72.9" textLength="32.2" lengthAdjust="spacingAndGlyphs">0.00002450</text><text x="1175.2" y="72.9" textLength="32.2" lengthAdjust="spacingAndGlyphs">0.00002450</text><text x="12.3" y="55.9" textLength="32.2" lengthAdjust="spacingAndGlyphs">0.00002500</text><text x="1175.2" y="55.9" textLength="32.2" lengthAdjust="spacingAndGlyphs">0.00002500</text><text x="12.3" y="38.9" textLength="32.2" lengthAdjust="spacingAndGlyphs">0.00002550</text><text x="1175.2" y="38.9" textLength="32.2" lengthAdjust="spacingAndGlyphs">0.00002550</text><text x="12.3" y="21.9" textLength="32.2" lengthAdjust="spacingAndGlyphs">0.00002600</text><text x="1175.2" y="21.9" textLength="32.2" lengthAdjust="spacingAndGlyphs">0.00002600</text></g>
<path d="M46.7 716.0h2M1171.3 716.0h2M46.7 699.0h2M1171.3 699.0h2M46.7 682.0h2M1171.3 682.0h2M46.7 665.0h2M1171.3 665.0h2M46.7 648.0h2M1171.3 648.0h2M46.7 631.0h2M1171.3 631.0h2M46.7 614.0h2M1171.3 614.0h2M46.7 597.0h2M1171.3 597.0h2M46.7 580.0h2M1171.3 580.0h2M46.7 563.0h2M1171.3 563.0h2M46.7 546.0h2M1171.3 546.0h2M46.7 529.0h2M1171.3 529.0h2M46.7 512.0h2M1171.3 512.0h2M46.7 495.0h2M1171.3 495.0h2M46.7 478.0h2M1171.3 478.0h2M46.7 461.0h2M1171.3 461.0h2M46.7 444.0h2M1171.3 444.0h2M46.7 427.0h2M1171.3 427.0h2M46.7 410.0h2M1171.3 410.0h2M46.7 393.0h2M1171.3 393.0h2M46.7 376.0h2M1171.3 376.0h2M46.7 359.0h2M1171.3 359.0h2M46.7 342.0h2M1171.3 342.0h2M46.7 325.0h2M1171.3 325.0h2M46.7 308.0h2M1171.3 308.0h2M46.7 291.0h2M1171.3 291.0h2M46.7 274.0h2M1171.3 274.0h2M46.7 257.0h2M1171.3 257.0h2M46.7 240.0h2M1171.3 240.0h2M46.7 223.0h2M1171.3 223.0h2M46.7 206.0h2M1171.3 206.0h2M46.7 189.0h2M1171.3 189.0h2M46.7 172.0h2M1171.3 172.0h2M46.7 155.0h2M1171.3 155.0h2M46.7 138.0h2M1171.3 138.0h2M46.7 121.0h2M1171.3 121.0h2M46.7 104.0h2M1171.3 104.0h2M46.7 87.0h2M1171.3 87.0h2M46.7 70.0h2M1171.3 70.0h2M46.7 53.0h2M1171.3 53.0h2M46.7 36.0h2M1171.3 36.0h2M46.7 19.0h2M1171.3 19.0h2" stroke="#666" stroke-width="0.8" fill="none"/>
<rect x="9.8" y="209.0" width="38.9" height="9.7" fill="#0a0a0a"/>
<text x="11.8" y="216.7" font-family='"Liberation Sans", Arial, sans-serif' font-size="6.6" font-weight="bold" fill="#fff" textLength="32.9" lengthAdjust="spacingAndGlyphs">0.00002027</text>
<rect x="1171.3" y="209.0" width="38.6" height="9.7" fill="#0a0a0a"/>
<text x="1174.8" y="216.7" font-family='"Liberation Sans", Arial, sans-serif' font-size="6.6" font-weight="bold" fill="#fff" textLength="32.4" lengthAdjust="spacingAndGlyphs">0.00002027</text>
<rect x="9.8" y="292.0" width="38.9" height="9.7" fill="#0a0a0a"/>
<text x="11.8" y="299.6" font-family='"Liberation Sans", Arial, sans-serif' font-size="6.6" font-weight="bold" fill="#fff" textLength="32.9" lengthAdjust="spacingAndGlyphs">0.00001783</text>
<rect x="1171.3" y="292.0" width="38.6" height="9.7" fill="#0a0a0a"/>
<text x="1174.8" y="299.6" font-family='"Liberation Sans", Arial, sans-serif' font-size="6.6" font-weight="bold" fill="#fff" textLength="32.4" lengthAdjust="spacingAndGlyphs">0.00001783</text>
<rect x="9.8" y="377.7" width="38.9" height="9.7" fill="#0a0a0a"/>
<text x="11.8" y="385.3" font-family='"Liberation Sans", Arial, sans-serif' font-size="6.6" font-weight="bold" fill="#fff" textLength="32.9" lengthAdjust="spacingAndGlyphs">0.00001531</text>
<rect x="1171.3" y="377.7" width="38.6" height="9.7" fill="#0a0a0a"/>
<text x="1174.8" y="385.3" font-family='"Liberation Sans", Arial, sans-serif' font-size="6.6" font-weight="bold" fill="#fff" textLength="32.4" lengthAdjust="spacingAndGlyphs">0.00001531</text>
<rect x="9.8" y="442.9" width="38.9" height="9.7" fill="#0a0a0a"/>
<text x="11.8" y="450.6" font-family='"Liberation Sans", Arial, sans-serif' font-size="6.6" font-weight="bold" fill="#fff" textLength="32.9" lengthAdjust="spacingAndGlyphs">0.00001339</text>
<rect x="1171.3" y="442.9" width="38.6" height="9.7" fill="#0a0a0a"/>
<text x="1174.8" y="450.6" font-family='"Liberation Sans", Arial, sans-serif' font-size="6.6" font-weight="bold" fill="#fff" textLength="32.4" lengthAdjust="spacingAndGlyphs">0.00001339</text>
<rect x="9.8" y="462.6" width="38.9" height="9.1" fill="#e2553f"/>
<text x="11.8" y="470.0" font-family='"Liberation Sans", Arial, sans-serif' font-size="6.6" font-weight="bold" fill="#fff" textLength="32.9" lengthAdjust="spacingAndGlyphs">0.00001283</text>
<rect x="1171.3" y="462.6" width="38.6" height="9.1" fill="#e2553f"/>
<text x="1174.8" y="470.0" font-family='"Liberation Sans", Arial, sans-serif' font-size="6.6" font-weight="bold" fill="#fff" textLength="32.4" lengthAdjust="spacingAndGlyphs">0.00001283</text>
<rect x="9.8" y="473.2" width="28.1" height="9.1" fill="#e2553f"/>
<text x="12.0" y="480.6" font-family='"Liberation Sans", Arial, sans-serif' font-size="6.6" font-weight="bold" fill="#fff" textLength="23.6" lengthAdjust="spacingAndGlyphs">02:06:22</text>
<rect x="1182.1" y="473.2" width="27.8" height="9.1" fill="#e2553f"/>
<text x="1183.8" y="480.6" font-family='"Liberation Sans", Arial, sans-serif' font-size="6.6" font-weight="bold" fill="#fff" textLength="23.4" lengthAdjust="spacingAndGlyphs">02:06:22</text>
<rect x="9.8" y="482.5" width="38.9" height="9.6" fill="#0a0a0a"/>
<text x="11.8" y="490.1" font-family='"Liberation Sans", Arial, sans-serif' font-size="6.6" font-weight="bold" fill="#fff" textLength="32.9" lengthAdjust="spacingAndGlyphs">0.00001255</text>
<rect x="1171.3" y="482.5" width="38.6" height="9.6" fill="#0a0a0a"/>
<text x="1174.8" y="490.1" font-family='"Liberation Sans", Arial, sans-serif' font-size="6.6" font-weight="bold" fill="#fff" textLength="32.4" lengthAdjust="spacingAndGlyphs">0.00001255</text>
<rect x="9.8" y="492.1" width="38.9" height="9.4" fill="#0a0a0a"/>
<text x="11.8" y="499.6" font-family='"Liberation Sans", Arial, sans-serif' font-size="6.6" font-weight="bold" fill="#fff" textLength="32.9" lengthAdjust="spacingAndGlyphs">0.00001226</text>
<rect x="1171.3" y="492.1" width="38.6" height="9.4" fill="#0a0a0a"/>
<text x="1174.8" y="499.6" font-family='"Liberation Sans", Arial, sans-serif' font-size="6.6" font-weight="bold" fill="#fff" textLength="32.4" lengthAdjust="spacingAndGlyphs">0.00001226</text>
<g font-family='"Liberation Sans", Arial, sans-serif' font-size="6.4" fill="#727272" text-anchor="middle"><text x="75.5" y="728.2">15:00</text><text x="120.5" y="728.2">16</text><text x="166" y="728.2">15:00</text><text x="211.3" y="728.2">23</text><text x="263" y="728.2">27</text><text x="315" y="728.2" font-weight="bold">May</text><text x="392.5" y="728.2">7</text><text x="438" y="728.2">15:00</text><text x="483" y="728.2">14</text><text x="529" y="728.2">15:00</text><text x="574.3" y="728.2">21</text><text x="619.5" y="728.2">15:00</text><text x="664.5" y="728.2">28</text><text x="716.5" y="728.2" font-weight="bold">Jun</text><text x="768.5" y="728.2">5</text><text x="846" y="728.2">11</text><text x="891.5" y="728.2">15:00</text><text x="936" y="728.2">18</text><text x="981.2" y="728.2">15:00</text><text x="1027" y="728.2">25</text><text x="1105.5" y="728.2" font-weight="bold">Jul</text><text x="1156" y="728.2">5</text></g>
<path d="M75.5 718.25v2M120.5 718.25v2M166 718.25v2M211.3 718.25v2M263 718.25v2M315 718.25v2M392.5 718.25v2M438 718.25v2M483 718.25v2M529 718.25v2M574.3 718.25v2M619.5 718.25v2M664.5 718.25v2M716.5 718.25v2M768.5 718.25v2M846 718.25v2M891.5 718.25v2M936 718.25v2M981.2 718.25v2M1027 718.25v2M1105.5 718.25v2M1156 718.25v2" stroke="#666" stroke-width="0.8" fill="none"/>
<text x="54" y="22.7" font-family='"Liberation Sans", Arial, sans-serif' font-size="7.4" font-weight="bold" fill="#484848" textLength="96.8" lengthAdjust="spacingAndGlyphs">Zilliqa / Bitcoin, 240, BINANCE</text>
<text x="54" y="32.8" font-family='"Liberation Sans", Arial, sans-serif' font-size="7.4" fill="#6a6a6a" textLength="75.8" lengthAdjust="spacingAndGlyphs">TEMA (25, 50, 100, 200)</text>
</svg>
</body></html>
